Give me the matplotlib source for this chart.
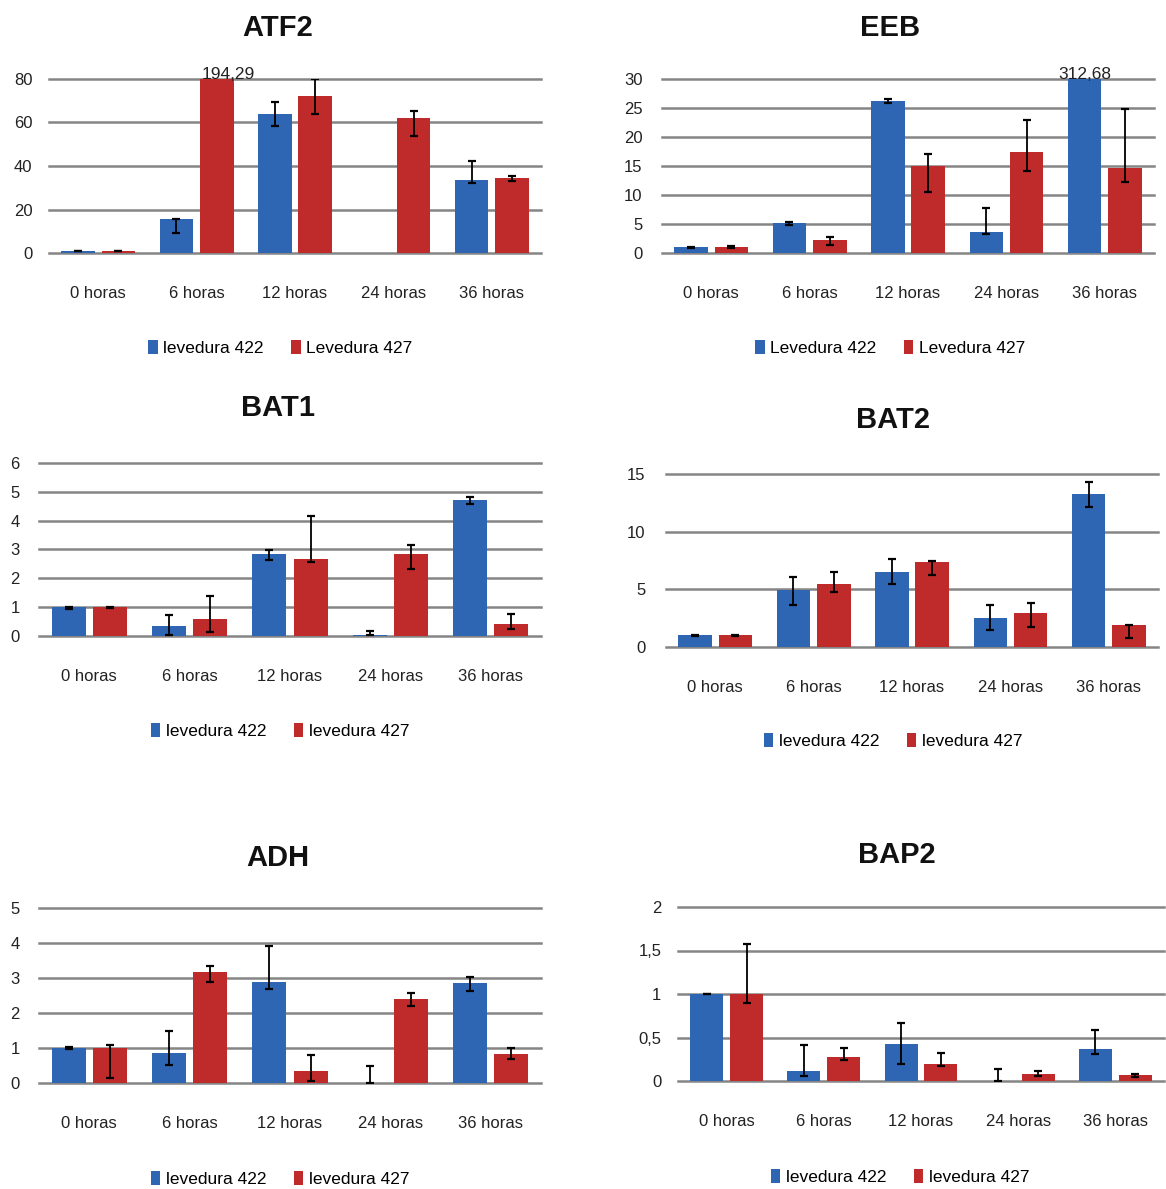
import numpy as np
import matplotlib
matplotlib.use("Agg")
import matplotlib.pyplot as plt
from matplotlib.ticker import FuncFormatter

plt.rcParams['font.family'] = ['Liberation Sans Narrow', 'Liberation Sans', 'DejaVu Sans']

# === DATA ===
categories = ["0 horas", "6 horas", "12 horas", "24 horas", "36 horas"]

atf2_422 = [1.0, 15.5, 63.7, 0.0, 33.7]
atf2_422_lo = [0.1, 6.3, 5.4, 0.0, 1.5]
atf2_422_hi = [0.1, 0.3, 5.6, 0.0, 8.8]
atf2_427 = [1.0, 194.29, 72.4, 62.0, 34.5]
atf2_427_lo = [0.1, 0.0, 8.7, 8.0, 1.5]
atf2_427_hi = [0.1, 0.0, 7.4, 3.4, 0.7]

eeb_422 = [1.0, 5.1, 26.2, 3.7, 312.68]
eeb_422_lo = [0.1, 0.3, 0.3, 0.5, 0.0]
eeb_422_hi = [0.1, 0.3, 0.3, 4.0, 0.0]
eeb_427 = [1.0, 2.2, 15.0, 17.4, 14.7]
eeb_427_lo = [0.2, 0.9, 4.5, 3.3, 2.5]
eeb_427_hi = [0.2, 0.6, 2.0, 5.6, 10.2]

bat1_422 = [1.0, 0.35, 2.83, 0.02, 4.73]
bat1_422_lo = [0.05, 0.32, 0.2, 0.0, 0.16]
bat1_422_hi = [0.02, 0.37, 0.16, 0.15, 0.09]
bat1_427 = [1.0, 0.6, 2.66, 2.83, 0.41]
bat1_427_lo = [0.03, 0.47, 0.1, 0.52, 0.15]
bat1_427_hi = [0.02, 0.77, 1.5, 0.31, 0.37]

bat2_422 = [1.0, 4.9, 6.5, 2.54, 13.27]
bat2_422_lo = [0.05, 1.3, 1.0, 1.04, 1.1]
bat2_422_hi = [0.05, 1.2, 1.15, 1.06, 1.07]
bat2_427 = [1.0, 5.5, 7.36, 2.94, 1.87]
bat2_427_lo = [0.05, 0.74, 1.1, 1.2, 1.1]
bat2_427_hi = [0.05, 1.0, 0.1, 0.9, 0.05]

adh_422 = [1.0, 0.87, 2.89, 0.01, 2.85]
adh_422_lo = [0.02, 0.35, 0.19, 0.0, 0.22]
adh_422_hi = [0.02, 0.62, 1.03, 0.47, 0.19]
adh_427 = [1.0, 3.18, 0.33, 2.4, 0.83]
adh_427_lo = [0.87, 0.29, 0.28, 0.2, 0.15]
adh_427_hi = [0.1, 0.15, 0.47, 0.17, 0.16]

bap2_422 = [1.0, 0.11, 0.42, 0.005, 0.37]
bap2_422_lo = [0.005, 0.05, 0.23, 0.0, 0.06]
bap2_422_hi = [0.005, 0.3, 0.25, 0.13, 0.22]
bap2_427 = [1.0, 0.28, 0.2, 0.083, 0.064]
bap2_427_lo = [0.1, 0.04, 0.03, 0.02, 0.02]
bap2_427_hi = [0.58, 0.1, 0.12, 0.03, 0.015]

BLUE = "#2e66b4"
RED = "#bf2a2b"
GRID = "#858585"
W, H = 1166, 1189
BW = 0.34
OFF = 0.205

fig = plt.figure(figsize=(W / 100, H / 100), dpi=100)


def comma_fmt(v, pos):
    return ("%g" % v).replace(".", ",")


def panel(title, x0, x1, ytop, ybot, ymax, step, tcx, tcy, lcx, lgy,
          s1, s1lo, s1hi, s2, s2lo, s2hi, labels, ypad, overflow=None):
    ax = fig.add_axes([x0 / W, 1 - ybot / H, (x1 - x0) / W, (ybot - ytop) / H])
    x = np.arange(len(categories))
    ax.bar(x - OFF, s1, width=BW, color=BLUE, label=labels[0], zorder=3)
    ax.bar(x + OFF, s2, width=BW, color=RED, label=labels[1], zorder=3)
    for off, vals, lo, hi in [(-OFF, s1, s1lo, s1hi), (OFF, s2, s2lo, s2hi)]:
        idx = [i for i in range(len(vals)) if lo[i] + hi[i] > 0 and vals[i] <= ymax]
        if idx:
            ax.errorbar(x[idx] + off, np.array(vals)[idx],
                        yerr=[np.array(lo)[idx], np.array(hi)[idx]],
                        fmt='none', ecolor='black', elinewidth=1.3, capsize=3,
                        capthick=1.6, zorder=4)
    if overflow:
        i, off, dx, txt = overflow
        ax.text(i + off + dx, ymax * 0.985, txt, ha='center', va='bottom', fontsize=12.5,
                color='#222222', zorder=5)
    ax.set_xlim(-0.5, len(categories) - 0.5)
    ax.set_ylim(0, ymax)
    ax.set_yticks(np.arange(0, ymax + step / 2, step))
    ax.yaxis.set_major_formatter(FuncFormatter(comma_fmt))
    ax.set_xticks(x)
    ax.set_xticklabels(categories)
    ax.tick_params(axis='x', length=0, pad=24, labelsize=12, colors='#222222')
    ax.tick_params(axis='y', length=0, pad=ypad, labelsize=12, colors='#222222')
    for sp in ax.spines.values():
        sp.set_visible(False)
    ax.yaxis.grid(True, color=GRID, linewidth=1.8, zorder=0)
    ax.set_axisbelow(True)
    for gl in ax.get_ygridlines():
        gl.set_clip_on(False)
    fig.text(tcx / W, 1 - tcy / H, title, ha='center', va='center', fontsize=21,
             fontweight='bold', color='#111111')
    ax.legend(loc='center', bbox_to_anchor=(lcx / W, 1 - lgy / H), bbox_transform=fig.transFigure,
              ncol=2, frameon=False, fontsize=12.5, handlelength=0.55, handleheight=0.9,
              handletextpad=0.3, columnspacing=1.6)
    return ax


panel("ATF2", 49, 541, 79, 253, 80, 20, 278, 28, 280, 348,
      atf2_422, atf2_422_lo, atf2_422_hi, atf2_427, atf2_427_lo, atf2_427_hi,
      ["levedura 422", "Levedura 427"], 12, overflow=(1, OFF, 0.12, "194,29"))
panel("EEB", 662, 1154, 79, 253, 30, 5, 890, 28, 890, 348,
      eeb_422, eeb_422_lo, eeb_422_hi, eeb_427, eeb_427_lo, eeb_427_hi,
      ["Levedura 422", "Levedura 427"], 14, overflow=(4, -OFF, 0.0, "312,68"))
panel("BAT1", 39, 541, 463, 636, 6, 1, 278, 408, 280, 731,
      bat1_422, bat1_422_lo, bat1_422_hi, bat1_427, bat1_427_lo, bat1_427_hi,
      ["levedura 422", "levedura 427"], 14)
panel("BAT2", 666, 1158, 474, 647, 15, 5, 893, 420, 893, 741,
      bat2_422, bat2_422_lo, bat2_422_hi, bat2_427, bat2_427_lo, bat2_427_hi,
      ["levedura 422", "levedura 427"], 15)
panel("ADH", 39, 541, 908, 1083, 5, 1, 278, 858, 280, 1179,
      adh_422, adh_422_lo, adh_422_hi, adh_427, adh_427_lo, adh_427_hi,
      ["levedura 422", "levedura 427"], 14)
panel("BAP2", 678, 1164, 907, 1081, 2, 0.5, 897, 855, 900, 1177,
      bap2_422, bap2_422_lo, bap2_422_hi, bap2_427, bap2_427_lo, bap2_427_hi,
      ["levedura 422", "levedura 427"], 12)

fig.savefig("out.png", dpi=100, facecolor='white')
